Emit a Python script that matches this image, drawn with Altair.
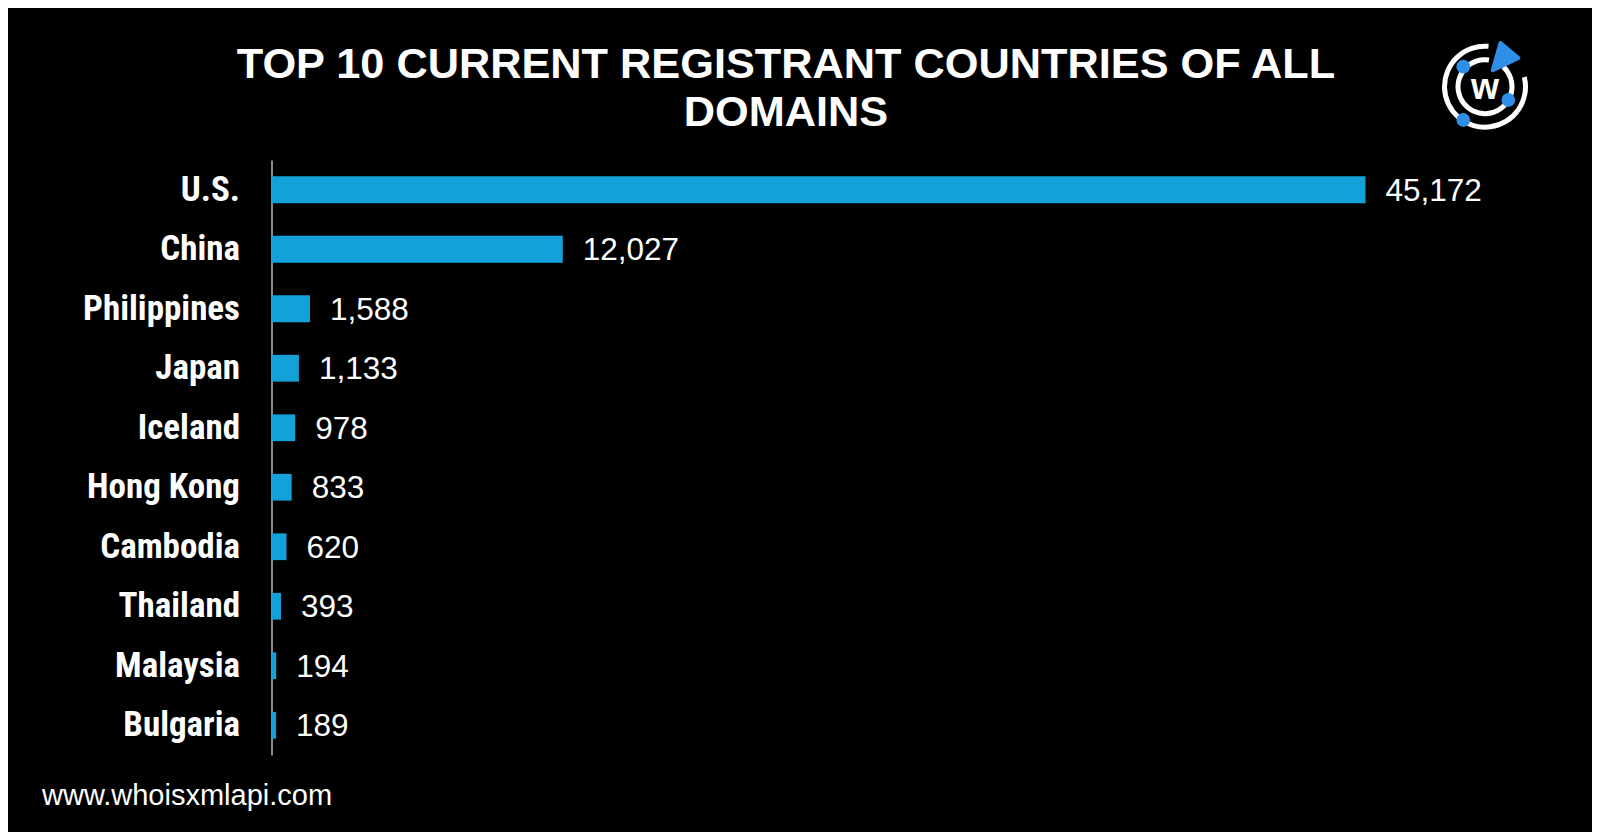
import altair as alt
import pandas as pd

# ---- data ----
countries = ["U.S.", "China", "Philippines", "Japan", "Iceland",
             "Hong Kong", "Cambodia", "Thailand", "Malaysia", "Bulgaria"]
counts = [45172, 12027, 1588, 1133, 978, 833, 620, 393, 194, 189]
title_lines = ["TOP 10 CURRENT REGISTRANT COUNTRIES OF ALL", "DOMAINS"]
footer_text = "www.whoisxmlapi.com"
logo_letter = "w"

df = pd.DataFrame({"country": countries, "count": counts})

W = 1094
H = 595
BAR = "#14a0d8"
LOGO_BLUE = "#2f8fe8"
COND = "'Roboto Condensed', 'Liberation Sans Narrow', 'DejaVu Sans Condensed', Roboto, sans-serif"

y_enc = alt.Y(
    "country:N", sort=countries,
    scale=alt.Scale(paddingInner=0.55, paddingOuter=0.275),
    axis=alt.Axis(
        title=None, ticks=False, grid=False,
        labelFont=COND, labelFontWeight="bold",
        labelFontSize=35, labelColor="white", labelPadding=32,
        labelLimit=500, domainColor="#8c8c8c", domainWidth=2,
    ),
)
x_enc = alt.X("count:Q", scale=alt.Scale(domain=[0, max(counts)], nice=False), axis=None)

bars = alt.Chart(df).mark_bar(color=BAR).encode(x=x_enc, y=y_enc)
labels = alt.Chart(df).mark_text(
    align="left", baseline="middle", dx=20, dy=2,
    font="Liberation Sans", fontSize=31.5, color="white",
).encode(x=x_enc, y=y_enc, text=alt.Text("count:Q", format=","))

one = pd.DataFrame({"k": [0]})

def text_layer(txt, x, y, **kw):
    return alt.Chart(pd.DataFrame({"t": [txt]})).mark_text(**kw).encode(
        text="t:N", x=alt.value(x), y=alt.value(y))

title1 = text_layer(title_lines[0], 514.5, -82, align="center", baseline="alphabetic",
                    font="Liberation Sans", fontWeight="bold", fontSize=43.3, color="white")
title2 = text_layer(title_lines[1], 514.5, -34, align="center", baseline="alphabetic",
                    font="Liberation Sans", fontWeight="bold", fontSize=43.3, color="white")
footer = text_layer(footer_text, -229.5, 645, align="left", baseline="alphabetic",
                    font="Liberation Sans", fontSize=29, color="white")

# ---- logo (decoration) ----
cx, cy = 1213.5, -73.3

def ring(t1, t2, r1, r2, color="white"):
    return alt.Chart(one).mark_arc(
        theta=t1, theta2=t2, radius=r2, radius2=r1, color=color
    ).encode(x=alt.value(cx), y=alt.value(cy))

outer = ring(1.33, 6.37, 38, 43)
middle = ring(0.75, 6.43, 24.5, 29.5)

dots = alt.Chart(pd.DataFrame({"dx": [-21.7, -21.7, 23.3], "dy": [-20, 33.3, 13.3]})).mark_circle(
    color=LOGO_BLUE, opacity=1, size=190
).transform_calculate(
    px=f"{cx} + datum.dx", py=f"{cy} + datum.dy"
).encode(x=alt.X("px:Q", scale=None), y=alt.Y("py:Q", scale=None))

tri = alt.Chart(one).mark_point(
    shape="M -0.7 0.82 L -0.22 -0.88 L 0.9 0.06 Z", filled=True, color=LOGO_BLUE,
    opacity=1, size=1024, stroke=LOGO_BLUE, strokeWidth=4, strokeJoin="round"
).encode(x=alt.value(cx + 19), y=alt.value(cy - 29.7))

letter = text_layer(logo_letter, cx, cy + 1, align="center", baseline="middle",
                    font="Liberation Sans", fontWeight="bold", fontSize=36, color="white")

chart = alt.layer(
    bars, labels, title1, title2, footer, outer, middle, dots, tri, letter
).properties(
    width=W, height=H,
    autosize=alt.AutoSizeParams(type="none"),
    padding={"left": 263.5, "top": 152, "right": 226.5, "bottom": 77},
    background="black",
).configure_view(stroke=None)

chart.save("out.html", embed_options={"renderer": "svg", "actions": False})
